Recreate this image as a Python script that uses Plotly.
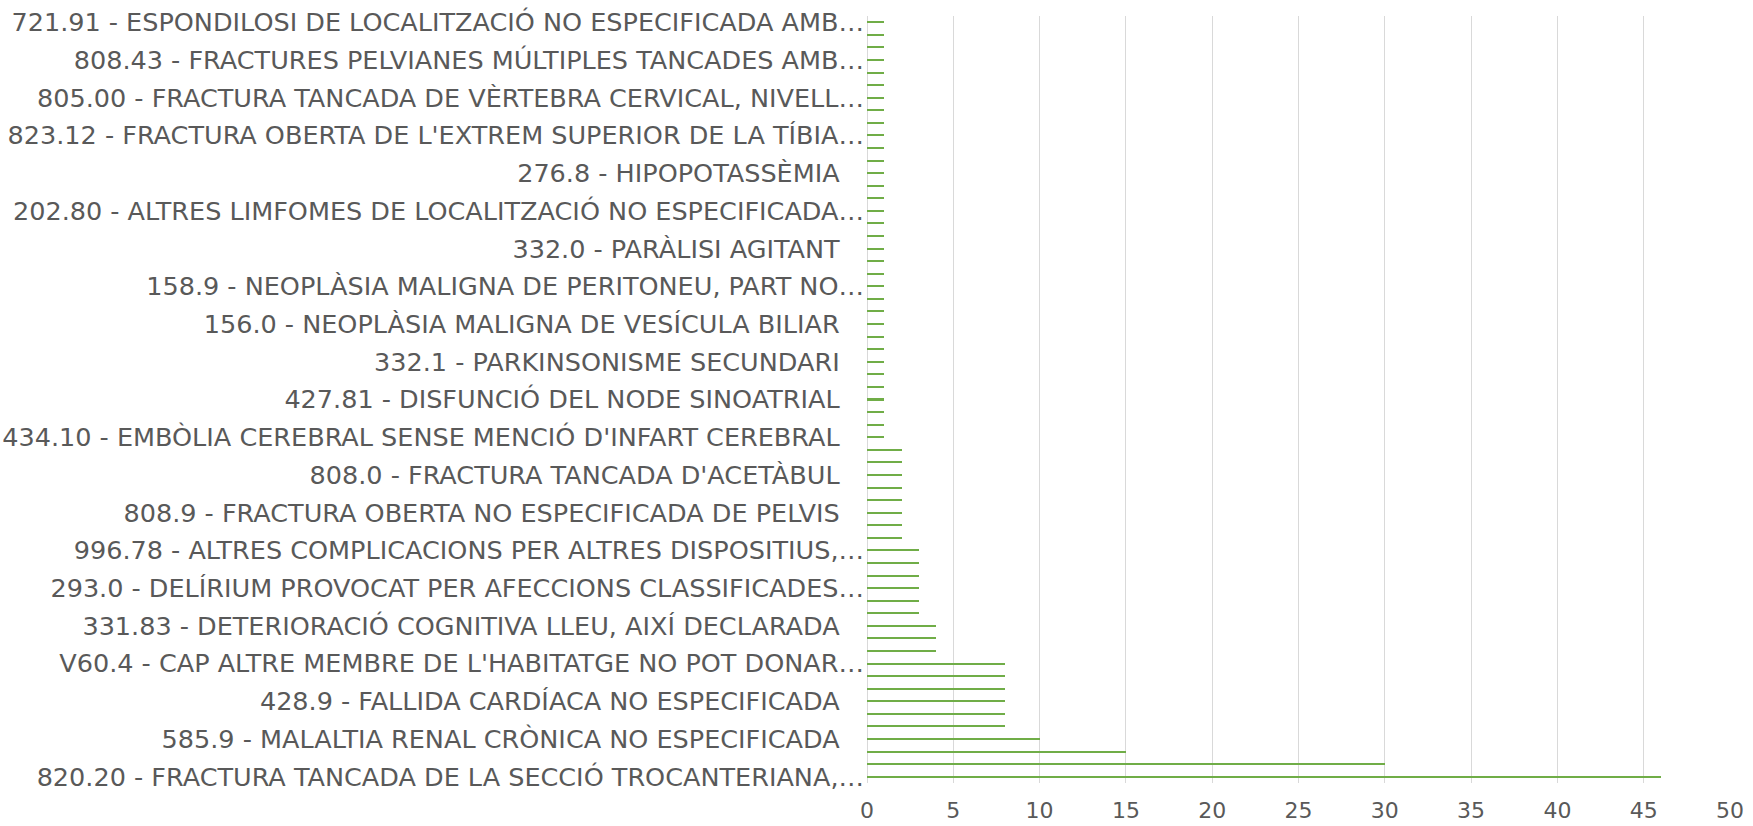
import plotly.graph_objects as go

# Values of all 61 bars, top to bottom
values = [1] * 34 + [2] * 8 + [3] * 6 + [4] * 3 + [8] * 6 + [10, 15, 30, 46]

# Visible category labels (every third bar, top to bottom)
PAD = "\u00a0\u00a0\u00a0"
labels = [
    "721.91 - ESPONDILOSI DE LOCALITZACIÓ NO ESPECIFICADA AMB…",
    "808.43 - FRACTURES PELVIANES MÚLTIPLES TANCADES AMB…",
    "805.00 - FRACTURA TANCADA DE VÈRTEBRA CERVICAL, NIVELL…",
    "823.12 - FRACTURA OBERTA DE L'EXTREM SUPERIOR DE LA TÍBIA…",
    "276.8 - HIPOPOTASSÈMIA" + PAD,
    "202.80 - ALTRES LIMFOMES DE LOCALITZACIÓ NO ESPECIFICADA…",
    "332.0 - PARÀLISI AGITANT" + PAD,
    "158.9 - NEOPLÀSIA MALIGNA DE PERITONEU, PART NO…",
    "156.0 - NEOPLÀSIA MALIGNA DE VESÍCULA BILIAR" + PAD,
    "332.1 - PARKINSONISME SECUNDARI" + PAD,
    "427.81 - DISFUNCIÓ DEL NODE SINOATRIAL" + PAD,
    "434.10 - EMBÒLIA CEREBRAL SENSE MENCIÓ D'INFART CEREBRAL" + PAD,
    "808.0 - FRACTURA TANCADA D'ACETÀBUL" + PAD,
    "808.9 - FRACTURA OBERTA NO ESPECIFICADA DE PELVIS" + PAD,
    "996.78 - ALTRES COMPLICACIONS PER ALTRES DISPOSITIUS,…",
    "293.0 - DELÍRIUM PROVOCAT PER AFECCIONS CLASSIFICADES…",
    "331.83 - DETERIORACIÓ COGNITIVA LLEU, AIXÍ DECLARADA" + PAD,
    "V60.4 - CAP ALTRE MEMBRE DE L'HABITATGE NO POT DONAR…",
    "428.9 - FALLIDA CARDÍACA NO ESPECIFICADA" + PAD,
    "585.9 - MALALTIA RENAL CRÒNICA NO ESPECIFICADA" + PAD,
    "820.20 - FRACTURA TANCADA DE LA SECCIÓ TROCANTERIANA,…",
]
label_step = 3

x_ticks = [0, 5, 10, 15, 20, 25, 30, 35, 40, 45, 50]

positions = list(range(len(values)))
label_positions = positions[::label_step]

fig = go.Figure(
    go.Bar(
        x=values,
        y=positions,
        orientation="h",
        width=0.16,
        marker=dict(color="#70AD47", line=dict(width=0)),
        hoverinfo="x",
    )
)

fig.update_layout(
    width=1753,
    height=826,
    margin=dict(l=867, r=23, t=16, b=43, autoexpand=False),
    paper_bgcolor="white",
    plot_bgcolor="white",
    font=dict(family="DejaVu Sans", color="#595959", size=20),
    showlegend=False,
    bargap=0,
)

fig.update_xaxes(
    range=[0, 50],
    tickvals=x_ticks,
    ticktext=[str(v) for v in x_ticks],
    showgrid=True,
    gridcolor="#D9D9D9",
    gridwidth=1.3,
    zeroline=True,
    zerolinecolor="#D9D9D9",
    zerolinewidth=1.3,
    showline=False,
    ticks="",
    tickfont=dict(size=22, color="#595959"),
    ticklabelstandoff=12,
)

fig.update_yaxes(
    range=[len(values) - 0.5, -0.5],
    tickvals=label_positions,
    ticktext=labels,
    showgrid=False,
    zeroline=False,
    showline=False,
    ticks="",
    tickfont=dict(size=25.5, color="#595959"),
    ticklabelstandoff=2,
)

fig.write_html(
    "out.html",
    config={"displayModeBar": False},
    post_script="document.body.style.margin='0';document.body.style.overflow='hidden';",
)
